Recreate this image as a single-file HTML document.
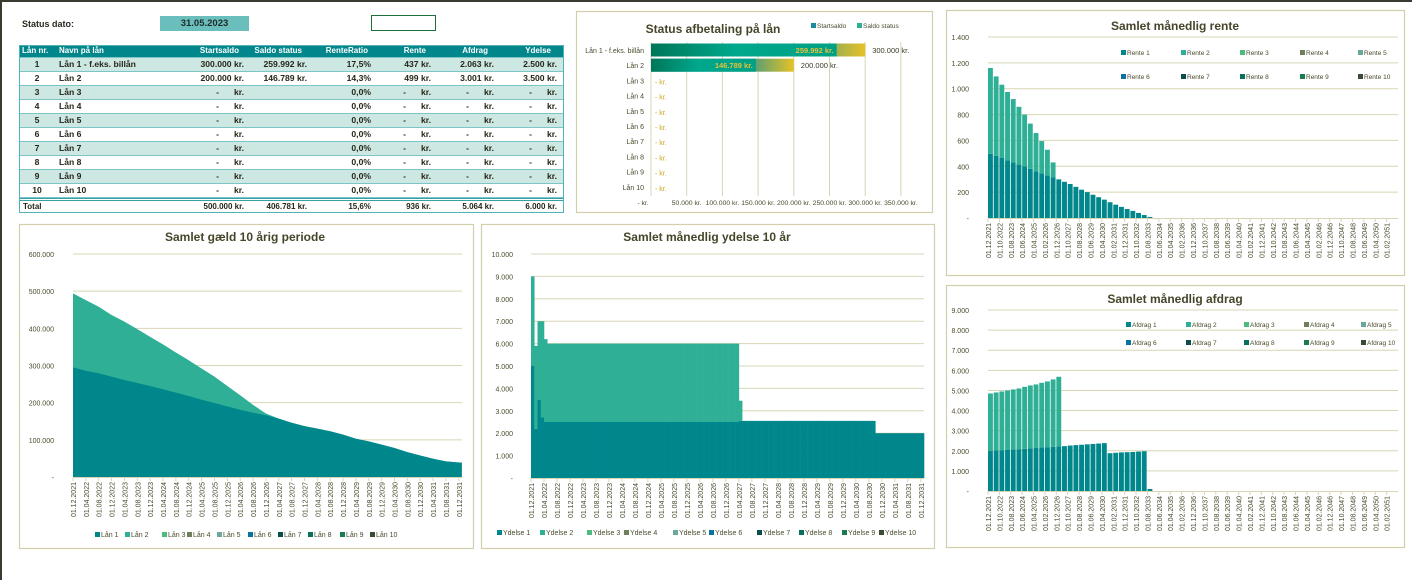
<!DOCTYPE html>
<html><head><meta charset="utf-8">
<style>
body{margin:0;width:1412px;height:580px;background:#fff;overflow:hidden;font-family:"Liberation Sans",sans-serif;position:relative}
#topline{position:absolute;left:0;top:0;width:1412px;height:2px;background:#3a3a30}
#leftline{position:absolute;left:0;top:0;width:2px;height:580px;background:#3a3a30}
.lbl{position:absolute;font-size:9px;font-weight:bold;color:#2a2a20}
#datebox{position:absolute;left:160px;top:16px;width:89px;height:15px;background:#6abfbd;font-size:9.5px;font-weight:bold;color:#1f2a28;text-align:center;line-height:15px}
#selbox{position:absolute;left:371px;top:15px;width:63px;height:14px;border:1.5px solid #1e6e3c}
#tbl{position:absolute;left:19px;top:45px;width:543px;height:166px;border:1px solid #4fb3b8}
.row{position:absolute;left:0;width:543px;height:14px;font-size:8.6px;font-weight:bold;color:#262618;border-bottom:1px solid #7cc6c8;box-sizing:border-box}
.row span{position:absolute;top:1px;white-space:nowrap}
svg text{font-family:"Liberation Sans",sans-serif}
</style></head><body>
<div id="topline"></div>
<div id="leftline"></div>
<div class="lbl" style="left:22px;top:19px">Status dato:</div>
<div id="datebox">31.05.2023</div>
<div id="selbox"></div>
<div id="tbl"></div>
<svg id="charts" width="1412" height="580" style="position:absolute;left:0;top:0"></svg>
<script>
// ---------- table data ----------
const loanNames=["Lån 1 - f.eks. billån","Lån 2","Lån 3","Lån 4","Lån 5","Lån 6","Lån 7","Lån 8","Lån 9","Lån 10"];
const startSaldo=[300000,200000,0,0,0,0,0,0,0,0];
const saldoStatus=[259992,146789,0,0,0,0,0,0,0,0];
const renteRatio=["17,5%","14,3%","0,0%","0,0%","0,0%","0,0%","0,0%","0,0%","0,0%","0,0%"];
const renteVals=[437,499,0,0,0,0,0,0,0,0];
const afdragVals=[2063,3001,0,0,0,0,0,0,0,0];
const ydelseVals=[2500,3500,0,0,0,0,0,0,0,0];
const totals=["500.000 kr.","406.781 kr.","15,6%","936 kr.","5.064 kr.","6.000 kr."];

// ---------- chart data ----------
const debtMonthLabels=["01.12.2021","01.04.2022","01.08.2022","01.12.2022","01.04.2023","01.08.2023","01.12.2023","01.04.2024","01.08.2024","01.12.2024","01.04.2025","01.08.2025","01.12.2025","01.04.2026","01.08.2026","01.12.2026","01.04.2027","01.08.2027","01.12.2027","01.04.2028","01.08.2028","01.12.2028","01.04.2029","01.08.2029","01.12.2029","01.04.2030","01.08.2030","01.12.2030","01.04.2031","01.08.2031","01.12.2031"];
const debtLan1=[295000,286000,279000,270000,261000,253000,245000,236000,227000,218000,208000,199000,190000,181000,173000,166000,157000,146000,137000,130000,123000,114000,103000,96000,87000,78000,67000,58000,49000,42000,39000];
const debtLan2=[199000,190000,179000,166000,157000,145000,132000,121000,108000,96000,84000,71000,55000,39000,21000,5000,0,0,0,0,0,0,0,0,0,0,0,0,0,0,0];
const debtYTicks=["-","100.000","200.000","300.000","400.000","500.000","600.000"];

const ydelse1=[5000,2200,3500,2700,2500,2500,2500,2500,2500,2500,
2500,2500,2500,2500,2500,2500,2500,2500,2500,2500,
2500,2500,2500,2500,2500,2500,2500,2500,2500,2500,
2500,2500,2500,2500,2500,2500,2500,2500,2500,2500,
2500,2500,2500,2500,2500,2500,2500,2500,2500,2500,
2500,2500,2500,2500,2500,2500,2500,2500,2500,2500,
2500,2500,2500,2500,2550,2550,2550,2550,2550,2550,
2550,2550,2550,2550,2550,2550,2550,2550,2550,2550,
2550,2550,2550,2550,2550,2550,2550,2550,2550,2550,
2550,2550,2550,2550,2550,2550,2550,2550,2550,2550,
2550,2550,2550,2550,2550,2550,2000,2000,2000,2000,
2000,2000,2000,2000,2000,2000,2000,2000,2000,2000,
2000];
const ydelse2=[4000,3700,3500,4300,3700,3500,3500,3500,3500,3500,
3500,3500,3500,3500,3500,3500,3500,3500,3500,3500,
3500,3500,3500,3500,3500,3500,3500,3500,3500,3500,
3500,3500,3500,3500,3500,3500,3500,3500,3500,3500,
3500,3500,3500,3500,3500,3500,3500,3500,3500,3500,
3500,3500,3500,3500,3500,3500,3500,3500,3500,3500,
3500,3500,3500,3500,900,0,0,0,0,0,
0,0,0,0,0,0,0,0,0,0,
0,0,0,0,0,0,0,0,0,0,
0,0,0,0,0,0,0,0,0,0,
0,0,0,0,0,0,0,0,0,0,
0,0,0,0,0,0,0,0,0,0,
0];
const ydelseYTicks=["-","1.000","2.000","3.000","4.000","5.000","6.000","7.000","8.000","9.000","10.000"];

const longMonthLabels=["01.12.2021","01.10.2022","01.08.2023","01.06.2024","01.04.2025","01.02.2026","01.12.2026","01.10.2027","01.08.2028","01.06.2029","01.04.2030","01.02.2031","01.12.2031","01.10.2032","01.08.2033","01.06.2034","01.04.2035","01.02.2036","01.12.2036","01.10.2037","01.08.2038","01.06.2039","01.04.2040","01.02.2041","01.12.2041","01.10.2042","01.08.2043","01.06.2044","01.04.2045","01.02.2046","01.12.2046","01.10.2047","01.08.2048","01.06.2049","01.04.2050","01.02.2051"];
const rente1=[497,480,464,447,430,415,400,380,361,345,330,313,296,280,263,241,219,200,180,161,142,122,103,86,70,55,39,23,8];
const rente2=[663,615,567,528,490,445,400,350,296,250,198,117,5,0,0,0,0,0,0,0,0,0,0,0,0,0,0,0,0];
const renteYTicks=["-","200","400","600","800","1.000","1.200","1.400"];
const afdrag1=[2000,2020,2030,2040,2060,2080,2100,2120,2140,2160,2180,2200,2220,2230,2260,2280,2300,2320,2340,2360,2380,1880,1900,1920,1930,1940,1960,1980,100];
const afdrag2=[2850,2880,2920,2960,2990,3020,3080,3130,3160,3220,3270,3350,3460,0,0,0,0,0,0,0,0,0,0,0,0,0,0,0,0];
const afdragYTicks=["-","1.000","2.000","3.000","4.000","5.000","6.000","7.000","8.000","9.000"];

const colors=['#00878c','#2fb096','#4cbc7e','#6f7f5e','#6aa89a','#0a72a0','#0b4d4a','#06705a','#1a7a50','#3c4a3a'];
const GRID='#d8d5b4', TXT='#4a4a2c';

// ---------- table build ----------
function fmt(n){return n.toString().replace(/\B(?=(\d{3})+(?!\d))/g,'.');}
const tbl=document.getElementById('tbl');
function addSpan(row,text,pos,isRight,color){
  const s=document.createElement('span');
  s.textContent=text;
  if(isRight){s.style.right=(543-pos)+'px';}else{s.style.left=pos+'px';}
  if(color)s.style.color=color;
  row.appendChild(s);
  return s;
}
function moneyCell(row,val,right,name){
  if(val>0){const s=addSpan(row,fmt(val)+' kr.',right,true);}
  else{const a=addSpan(row,'-',right-25,true);
       const b=addSpan(row,'kr.',right,true);}
}
// header
const hdr=document.createElement('div');
hdr.className='row';hdr.style.top='0px';hdr.style.height='12px';hdr.style.background='#00868b';hdr.style.color='#fff';hdr.style.fontSize='8px';


[['Lån nr.',2,false],['Navn på lån',39,false],['Startsaldo',219,true],['Saldo status',282,true],['RenteRatio',348,true],['Rente',406,true],['Afdrag',468,true],['Ydelse',531,true]].forEach(h=>{const s=addSpan(hdr,h[0],h[1],h[2]);s.style.top='0px';});
tbl.appendChild(hdr);
for(let i=0;i<10;i++){
  const r=document.createElement('div');
  r.className='row';r.style.top=(12+i*14)+'px';r.style.background=(i%2==0)?'#cde8e3':'#fff';
  
  
  const n=addSpan(r,String(i+1),17,false);n.style.width='0';n.style.display='flex';n.style.justifyContent='center';
  addSpan(r,loanNames[i],39,false);
  moneyCell(r,startSaldo[i],224,'startsaldo-cell');
  if(saldoStatus[i]>0){addSpan(r,fmt(saldoStatus[i])+' kr.',287,true);}
  addSpan(r,renteRatio[i],351,true);
  moneyCell(r,renteVals[i],411,'rente-cell');
  moneyCell(r,afdragVals[i],474,'afdrag-cell');
  moneyCell(r,ydelseVals[i],537,'ydelse-cell');
  tbl.appendChild(r);
}
const tr=document.createElement('div');
tr.className='row';tr.style.top='152px';tr.style.background='#fff';tr.style.borderTop='3px double #3aa0a8';tr.style.borderBottom='none';tr.style.fontSize='8px';


addSpan(tr,'Total',3,false);
[[totals[0],224],[totals[1],287],[totals[2],351],[totals[3],411],[totals[4],474],[totals[5],537]].forEach(t=>addSpan(tr,t[0],t[1],true));
tbl.appendChild(tr);

// ---------- svg helpers ----------
const NS='http://www.w3.org/2000/svg';
const svg=document.getElementById('charts');
function mk(tag,parent,attrs){const e=document.createElementNS(NS,tag);for(const k in attrs)e.setAttribute(k,attrs[k]);parent.appendChild(e);return e;}
function txt(parent,x,y,s,size,anchor,fill,weight){const t=mk('text',parent,{x:x,y:y,'font-size':size,'text-anchor':anchor||'start',fill:fill||TXT});if(weight)t.setAttribute('font-weight',weight);t.textContent=s;return t;}
function panel(x0,y0,x1,y1,title,tx,ty,name){
  const g=mk('g',svg,{});
  
  
  const r=mk('rect',g,{x:x0+.5,y:y0+.5,width:x1-x0,height:y1-y0,fill:'#fff',stroke:'#d3cfaa','stroke-width':1.2});
  
  
  const t=txt(g,tx,ty,title,12,'middle','#47452a','bold');
  
  
  return g;
}
function yAxis(g,p,ticks,labelRight){
  for(let i=0;i<ticks.length;i++){
    const y=p.yb-(p.yb-p.yt)*i/(ticks.length-1);
    if(i>0){const l=mk('line',g,{x1:p.x0,x2:p.x1,y1:y,y2:y,stroke:GRID,'stroke-width':1});
      
      }
    const t=txt(g,labelRight,y+3,ticks[i],7,'end');
    
    
  }
}
function xAxis(g,p,labels,monthsPer,ppm){
  const ax=mk('line',g,{x1:p.x0,x2:p.x1,y1:p.yb+.5,y2:p.yb+.5,stroke:GRID,'stroke-width':1});
  
  
  for(let i=0;i<labels.length;i++){
    const x=p.x0+i*monthsPer*ppm;
    const tk=mk('line',g,{x1:x,x2:x,y1:p.yb,y2:p.yb+4,stroke:GRID});
    
    
    const t=mk('text',g,{transform:'translate('+(x+3)+','+(p.yb+5)+') rotate(-90)','font-size':7,'text-anchor':'end',fill:TXT});
    t.textContent=labels[i];
    
    
  }
}
function legend(g,items,xs,ys,size){
  items.forEach((s,i)=>{
    const r=mk('rect',g,{x:xs[i],y:ys[i]-5,width:5,height:5,fill:colors[i%10]});
    
    
    const t=txt(g,xs[i]+6,ys[i],s,size||7,'start');
    
    
  });
}
function stackedBars(g,p,series,ymax,monthsPer,ppm,gap,prefix){
  const n=series[0].length;
  const ys=v=>p.yb-v/ymax*(p.yb-p.yt);
  for(let i=0;i<n;i++){
    let base=0;
    const x=p.x0+i*monthsPer*ppm;
    const w=Math.max(0.5,monthsPer*ppm-gap);
    series.forEach((s,k)=>{
      const v=s[i];if(v<=0)return;
      const r=mk('rect',g,{x:x,y:ys(base+v),width:w,height:ys(base)-ys(base+v),fill:colors[k]});
      
      
      base+=v;
    });
  }
}

// ---------- Chart A: status afbetaling ----------
(function(){
  const g=panel(576,11,932,212,'Status afbetaling på lån',713,33,'status-afbetaling-chart');
  const defs=mk('defs',svg,{});
  const g1=mk('linearGradient',defs,{id:'gStart',x1:0,x2:1,y1:0,y2:0});
  mk('stop',g1,{offset:'0','stop-color':'#0a8aa0'});mk('stop',g1,{offset:'0.6','stop-color':'#1a8f98'});mk('stop',g1,{offset:'1','stop-color':'#e6c226'});
  const g2=mk('linearGradient',defs,{id:'gSaldo',x1:0,x2:1,y1:0,y2:0});
  mk('stop',g2,{offset:'0','stop-color':'#007658'});mk('stop',g2,{offset:'0.45','stop-color':'#00a88c'});mk('stop',g2,{offset:'1','stop-color':'#00a084'});
  legend(g,['Startsaldo','Saldo status'],[811,857],[28,28],6.5);
  g.lastChild.previousSibling.previousSibling.previousSibling.setAttribute('fill','#1a8aa0');
  const x0=651,per=35.7/50000;
  const xs=v=>x0+v*per;
  const xt=["-      kr.","50.000 kr.","100.000 kr.","150.000 kr.","200.000 kr.","250.000 kr.","300.000 kr.","350.000 kr."];
  for(let k=0;k<8;k++){
    const x=xs(k*50000);
    const l=mk('line',g,{x1:x,x2:x,y1:42,y2:196,stroke:GRID});
    
    
    const t=txt(g,k==0?x-8:x,205,xt[k],6.8,'middle');
    
    
  }
  for(let i=0;i<10;i++){
    const yc=50+i*15.2;
    const c=txt(g,644,yc+3,loanNames[i],7,'end');
    
    
    if(startSaldo[i]>0){
      const r=mk('rect',g,{x:x0,y:yc-6.5,width:xs(startSaldo[i])-x0,height:13,fill:'url(#gStart)'});
      
      
      const r2=mk('rect',g,{x:x0,y:yc-6.5,width:xs(saldoStatus[i])-x0,height:13,fill:'url(#gSaldo)'});
      
      
      const t=txt(g,xs(saldoStatus[i])-3,yc+3,fmt(saldoStatus[i])+' kr.',7.5,'end','#e6c23a','bold');
      
      
      const t2=txt(g,xs(startSaldo[i])+7,yc+3,fmt(startSaldo[i])+' kr.',7.5,'start','#3a3a28');
      
      
    } else {
      const t=txt(g,655,yc+4,'-   kr.',7,'start','#c9a820');
      
      
    }
  }
})();

// ---------- Chart B: rente ----------
(function(){
  const g=panel(946,10,1404,275,'Samlet månedlig rente',1175,30,'rente-chart');
  const p={x0:988,x1:1398,yb:218,yt:37};
  yAxis(g,p,renteYTicks,969);
  stackedBars(g,p,[rente1,rente2],1400,5,1.139,0.8,'rente');
  xAxis(g,p,longMonthLabels,10,1.139);
  const names=[];for(let i=1;i<=10;i++)names.push('Rente '+i);
  legend(g,names,[1121,1181,1240,1300,1358,1121,1181,1240,1300,1358],[55,55,55,55,55,79,79,79,79,79],6.5);
})();

// ---------- Chart C: afdrag ----------
(function(){
  const g=panel(946,285,1404,547,'Samlet månedlig afdrag',1175,303,'afdrag-chart');
  const p={x0:988,x1:1398,yb:491,yt:310};
  yAxis(g,p,afdragYTicks,969);
  stackedBars(g,p,[afdrag1,afdrag2],9000,5,1.139,0.8,'afdrag');
  xAxis(g,p,longMonthLabels,10,1.139);
  const names=[];for(let i=1;i<=10;i++)names.push('Afdrag '+i);
  legend(g,names,[1126,1186,1244,1304,1361,1126,1186,1244,1304,1361],[327,327,327,327,327,345,345,345,345,345],6.5);
})();

// ---------- Chart D: gæld ----------
(function(){
  const g=panel(19,224,473,548,'Samlet gæld 10 årig periode',245,241,'gaeld-chart');
  const p={x0:73,x1:462,yb:477,yt:254};
  yAxis(g,p,debtYTicks,54);
  const ppm=(p.x1-p.x0)/121;
  const xs=i=>p.x0+i*4*ppm;
  const ys=v=>p.yb-v/600000*(p.yb-p.yt);
  let top=[],bot=[];
  for(let i=0;i<debtLan1.length;i++){bot.push([xs(i),ys(debtLan1[i])]);top.push([xs(i),ys(debtLan1[i]+debtLan2[i])]);}
  const last=xs(debtLan1.length-1)+3;
  let d2='M'+p.x0+','+p.yb+' '+top.map(q=>'L'+q[0]+','+q[1]).join(' ')+' L'+last+','+top[top.length-1][1]+' L'+last+','+p.yb+'Z';
  const a2=mk('path',g,{d:d2,fill:colors[1]});
  
  
  let d1='M'+p.x0+','+p.yb+' '+bot.map(q=>'L'+q[0]+','+q[1]).join(' ')+' L'+last+','+bot[bot.length-1][1]+' L'+last+','+p.yb+'Z';
  const a1=mk('path',g,{d:d1,fill:colors[0]});
  
  
  xAxis(g,p,debtMonthLabels,4,ppm);
  const names=[];for(let i=1;i<=10;i++)names.push('Lån '+i);
  legend(g,names,[95,125,162,187,217,248,278,308,340,370],[537,537,537,537,537,537,537,537,537,537],7);
})();

// ---------- Chart E: ydelse ----------
(function(){
  const g=panel(481,224,934,548,'Samlet månedlig ydelse 10 år',707,241,'ydelse-chart');
  const p={x0:531,x1:924,yb:478,yt:254};
  yAxis(g,p,ydelseYTicks,513);
  const ppm=(p.x1-p.x0)/121;
  stackedBars(g,p,[ydelse1,ydelse2],10000,1,ppm,-0.3,'ydelse');
  xAxis(g,p,debtMonthLabels,4,ppm);
  const names=[];for(let i=1;i<=10;i++)names.push('Ydelse '+i);
  legend(g,names,[497,540,587,624,673,709,757,799,842,879],[535,535,535,535,535,535,535,535,535,535],7);
})();
</script>
</body></html>
